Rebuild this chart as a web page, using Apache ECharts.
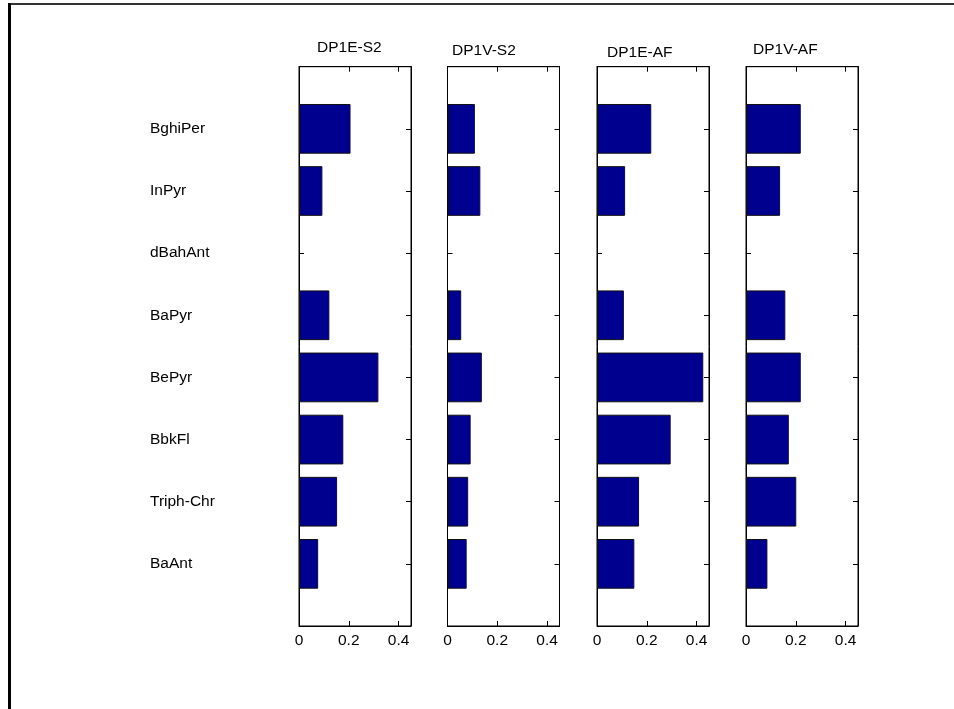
<!DOCTYPE html>
<html>
<head>
<meta charset="utf-8">
<script src="https://cdn.jsdelivr.net/npm/echarts@6/dist/echarts.min.js"></script>
<style>
html,body{margin:0;padding:0;background:#fff;}
#chart{width:954px;height:709px;}
</style>
</head>
<body>
<div id="chart"></div>
<script>
// categories listed bottom to top
const categories = ['BaAnt', 'Triph-Chr', 'BbkFl', 'BePyr', 'BaPyr', 'dBahAnt', 'InPyr', 'BghiPer'];
const panelTitles = ['DP1E-S2', 'DP1V-S2', 'DP1E-AF', 'DP1V-AF'];
const dp1eS2 = [0.077, 0.153, 0.178, 0.319, 0.122, 0, 0.094, 0.207];
const dp1vS2 = [0.077, 0.083, 0.093, 0.138, 0.055, 0, 0.132, 0.110];
const dp1eAF = [0.150, 0.169, 0.296, 0.427, 0.108, 0, 0.113, 0.218];
const dp1vAF = [0.086, 0.202, 0.172, 0.220, 0.158, 0, 0.137, 0.220];
const xTickLabels = ['0', '0.2', '0.4'];

const seriesValues = [dp1eS2, dp1vS2, dp1eAF, dp1vAF];
const paddedCats = [''].concat(categories, ['']);

const FONT = 'Liberation Sans, Arial, sans-serif';
const FS = 15.5;
const lefts = [299, 447.5, 597, 746];
const titlePos = [[317, 48], [452, 51], [607, 52.5], [753, 49.5]];
const gridTop = 66.7, gridH = 559.3, gridW = 112;

const grids = [], xAxes = [], yAxes = [], series = [], graphics = [];

lefts.forEach((l, i) => {
  grids.push({left: l, top: gridTop, width: gridW, height: gridH, show: true,
    borderColor: '#000', borderWidth: 1, backgroundColor: 'transparent'});
  const xBase = {
    type: 'value', min: 0, max: 0.45, interval: 0.2, gridIndex: i,
    axisLine: {show: true, onZero: false, lineStyle: {color: '#000', width: 1}},
    axisTick: {show: true, inside: true, length: 5, lineStyle: {color: '#000'}},
    splitLine: {show: false}
  };
  xAxes.push(Object.assign({}, xBase, {
    position: 'bottom',
    axisLabel: {
      show: true, margin: 7, color: '#000', fontFamily: FONT, fontSize: FS,
      formatter: v => {
        const s = xTickLabels.find(t => Math.abs(parseFloat(t) - v) < 1e-9);
        return s === undefined ? '' : s;
      }
    }
  }));
  xAxes.push(Object.assign({}, xBase, {position: 'top', axisLabel: {show: false}}));
  const yBase = {
    type: 'category', data: paddedCats, boundaryGap: false, gridIndex: i,
    axisLine: {show: true, onZero: false, lineStyle: {color: '#000', width: 1}},
    axisTick: {show: true, inside: true, length: 5, lineStyle: {color: '#000'}},
    splitLine: {show: false}
  };
  yAxes.push(Object.assign({}, yBase, {
    position: 'left',
    axisLabel: i === 0 ? {
      show: true, align: 'left', margin: 149, color: '#000', fontFamily: FONT, fontSize: FS,
      interval: 0
    } : {show: false}
  }));
  yAxes.push(Object.assign({}, yBase, {position: 'right', axisLabel: {show: false}}));
  series.push({
    type: 'bar', xAxisIndex: i * 2, yAxisIndex: i * 2,
    data: ['-'].concat(seriesValues[i].map(v => (v === 0 ? '-' : v)), ['-']),
    barWidth: '80%',
    itemStyle: {color: '#00008F', borderColor: '#111', borderWidth: 1},
    silent: true, animation: false
  });
  graphics.push({
    type: 'text', x: titlePos[i][0], y: titlePos[i][1],
    style: {text: panelTitles[i], font: FS + 'px ' + FONT, fill: '#000', textVerticalAlign: 'middle'}
  });
});

// outer frame remnants (top and left edges)
graphics.push({type: 'rect', shape: {x: 8, y: 3, width: 946, height: 2}, style: {fill: '#333'}});
graphics.push({type: 'rect', shape: {x: 8, y: 3, width: 3, height: 706}, style: {fill: '#000'}});

const chart = echarts.init(document.getElementById('chart'), null, {renderer: 'canvas'});
chart.setOption({
  animation: false,
  backgroundColor: '#fff',
  grid: grids, xAxis: xAxes, yAxis: yAxes, series: series, graphic: graphics
});
</script>
</body>
</html>
